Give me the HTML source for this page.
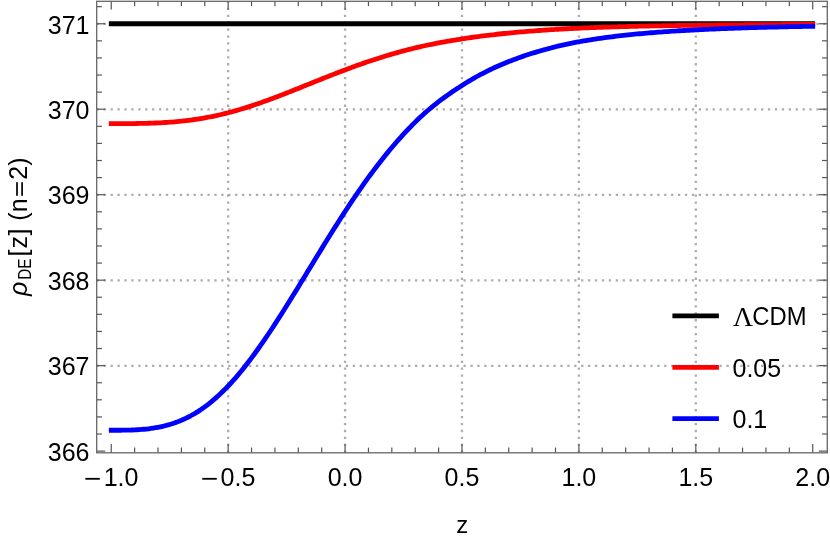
<!DOCTYPE html>
<html><head><meta charset="utf-8"><title>plot</title>
<style>html,body{margin:0;padding:0;background:#fff;overflow:hidden}svg{display:block;will-change:transform}</style>
</head><body>
<svg width="830" height="542" viewBox="0 0 830 542">
<g stroke="#adadad" stroke-width="2.3" stroke-dasharray="2.3 4.62" fill="none">
<line x1="96.70" y1="365.83" x2="827.30" y2="365.83"/>
<line x1="96.70" y1="280.36" x2="827.30" y2="280.36"/>
<line x1="96.70" y1="194.89" x2="827.30" y2="194.89"/>
<line x1="96.70" y1="109.42" x2="827.30" y2="109.42"/>
<line x1="96.70" y1="23.95" x2="827.30" y2="23.95"/>
<line x1="228.16" y1="452.90" x2="228.16" y2="1.30"/>
<line x1="345.07" y1="452.90" x2="345.07" y2="1.30"/>
<line x1="461.98" y1="452.90" x2="461.98" y2="1.30"/>
<line x1="578.89" y1="452.90" x2="578.89" y2="1.30"/>
<line x1="695.80" y1="452.90" x2="695.80" y2="1.30"/>
</g>
<g fill="none" stroke-width="4.8" stroke-linecap="square" stroke-linejoin="round">
<path d="M111.25,23.75 L812.71,23.75" stroke="#000"/>
<path d="M111.25,123.63 L113.59,123.63 L115.93,123.63 L118.26,123.63 L120.60,123.62 L122.94,123.62 L125.28,123.61 L127.62,123.60 L129.96,123.58 L132.29,123.56 L134.63,123.54 L136.97,123.51 L139.31,123.47 L141.65,123.43 L143.98,123.38 L146.32,123.33 L148.66,123.26 L151.00,123.19 L153.34,123.11 L155.68,123.01 L158.01,122.91 L160.35,122.79 L162.69,122.66 L165.03,122.52 L167.37,122.37 L169.70,122.21 L172.04,122.03 L174.38,121.84 L176.72,121.63 L179.06,121.41 L181.40,121.17 L183.73,120.92 L186.07,120.65 L188.41,120.37 L190.75,120.07 L193.09,119.75 L195.43,119.41 L197.76,119.05 L200.10,118.68 L202.44,118.29 L204.78,117.88 L207.12,117.45 L209.45,117.00 L211.79,116.53 L214.13,116.05 L216.47,115.54 L218.81,115.02 L221.15,114.48 L223.48,113.92 L225.82,113.35 L228.16,112.76 L230.50,112.15 L232.84,111.51 L235.17,110.87 L237.51,110.20 L239.85,109.51 L242.19,108.81 L244.53,108.10 L246.87,107.36 L249.20,106.61 L251.54,105.85 L253.88,105.07 L256.22,104.28 L258.56,103.48 L260.89,102.67 L263.23,101.84 L265.57,101.01 L267.91,100.16 L270.25,99.30 L272.59,98.43 L274.92,97.56 L277.26,96.67 L279.60,95.77 L281.94,94.87 L284.28,93.96 L286.62,93.05 L288.95,92.13 L291.29,91.20 L293.63,90.27 L295.97,89.34 L298.31,88.40 L300.64,87.47 L302.98,86.53 L305.32,85.59 L307.66,84.64 L310.00,83.70 L312.34,82.76 L314.67,81.82 L317.01,80.88 L319.35,79.94 L321.69,79.00 L324.03,78.07 L326.36,77.14 L328.70,76.22 L331.04,75.29 L333.38,74.38 L335.72,73.47 L338.06,72.56 L340.39,71.67 L342.73,70.77 L345.07,69.89 L347.41,69.01 L349.75,68.15 L352.08,67.28 L354.42,66.43 L356.76,65.59 L359.10,64.76 L361.44,63.93 L363.78,63.12 L366.11,62.31 L368.45,61.52 L370.79,60.73 L373.13,59.96 L375.47,59.19 L377.80,58.44 L380.14,57.70 L382.48,56.97 L384.82,56.25 L387.16,55.54 L389.50,54.84 L391.83,54.15 L394.17,53.48 L396.51,52.82 L398.85,52.16 L401.19,51.52 L403.52,50.89 L405.86,50.27 L408.20,49.67 L410.54,49.07 L412.88,48.49 L415.22,47.91 L417.55,47.35 L419.89,46.81 L422.23,46.28 L424.57,45.76 L426.91,45.25 L429.25,44.76 L431.58,44.28 L433.92,43.81 L436.26,43.36 L438.60,42.91 L440.94,42.47 L443.27,42.05 L445.61,41.63 L447.95,41.22 L450.29,40.82 L452.63,40.42 L454.97,40.03 L457.30,39.65 L459.64,39.28 L461.98,38.90 L464.32,38.54 L466.66,38.18 L468.99,37.84 L471.33,37.50 L473.67,37.16 L476.01,36.84 L478.35,36.52 L480.69,36.22 L483.02,35.91 L485.36,35.62 L487.70,35.33 L490.04,35.05 L492.38,34.78 L494.71,34.51 L497.05,34.25 L499.39,34.00 L501.73,33.75 L504.07,33.51 L506.41,33.27 L508.74,33.04 L511.08,32.81 L513.42,32.59 L515.76,32.38 L518.10,32.17 L520.43,31.97 L522.77,31.77 L525.11,31.58 L527.45,31.39 L529.79,31.20 L532.13,31.02 L534.46,30.84 L536.80,30.66 L539.14,30.49 L541.48,30.33 L543.82,30.16 L546.16,30.00 L548.49,29.85 L550.83,29.70 L553.17,29.55 L555.51,29.41 L557.85,29.27 L560.18,29.13 L562.52,29.00 L564.86,28.87 L567.20,28.74 L569.54,28.62 L571.88,28.51 L574.21,28.39 L576.55,28.28 L578.89,28.17 L581.23,28.07 L583.57,27.97 L585.90,27.87 L588.24,27.78 L590.58,27.69 L592.92,27.60 L595.26,27.51 L597.60,27.42 L599.93,27.34 L602.27,27.26 L604.61,27.18 L606.95,27.10 L609.29,27.03 L611.62,26.95 L613.96,26.88 L616.30,26.81 L618.64,26.74 L620.98,26.68 L623.32,26.61 L625.65,26.55 L627.99,26.49 L630.33,26.43 L632.67,26.37 L635.01,26.32 L637.35,26.26 L639.68,26.21 L642.02,26.16 L644.36,26.10 L646.70,26.05 L649.04,26.01 L651.37,25.96 L653.71,25.91 L656.05,25.87 L658.39,25.82 L660.73,25.78 L663.07,25.74 L665.40,25.70 L667.74,25.66 L670.08,25.62 L672.42,25.58 L674.76,25.55 L677.09,25.51 L679.43,25.48 L681.77,25.44 L684.11,25.41 L686.45,25.37 L688.79,25.34 L691.12,25.31 L693.46,25.28 L695.80,25.25 L698.14,25.22 L700.48,25.19 L702.81,25.17 L705.15,25.14 L707.49,25.11 L709.83,25.09 L712.17,25.06 L714.51,25.04 L716.84,25.01 L719.18,24.99 L721.52,24.97 L723.86,24.94 L726.20,24.92 L728.53,24.90 L730.87,24.88 L733.21,24.86 L735.55,24.84 L737.89,24.82 L740.23,24.80 L742.56,24.78 L744.90,24.76 L747.24,24.74 L749.58,24.73 L751.92,24.71 L754.25,24.69 L756.59,24.68 L758.93,24.66 L761.27,24.64 L763.61,24.63 L765.95,24.61 L768.28,24.60 L770.62,24.59 L772.96,24.57 L775.30,24.56 L777.64,24.54 L779.98,24.53 L782.31,24.52 L784.65,24.50 L786.99,24.49 L789.33,24.48 L791.67,24.47 L794.00,24.46 L796.34,24.44 L798.68,24.43 L801.02,24.42 L803.36,24.41 L805.70,24.40 L808.03,24.39 L810.37,24.38 L812.71,24.37" stroke="#ff0000"/>
<path d="M111.25,430.26 L113.59,430.26 L115.93,430.26 L118.26,430.25 L120.60,430.24 L122.94,430.22 L125.28,430.18 L127.62,430.13 L129.96,430.07 L132.29,429.98 L134.63,429.88 L136.97,429.77 L139.31,429.62 L141.65,429.46 L143.98,429.26 L146.32,429.03 L148.66,428.77 L151.00,428.47 L153.34,428.13 L155.68,427.74 L158.01,427.31 L160.35,426.84 L162.69,426.32 L165.03,425.75 L167.37,425.13 L169.70,424.46 L172.04,423.74 L174.38,422.96 L176.72,422.12 L179.06,421.22 L181.40,420.26 L183.73,419.23 L186.07,418.14 L188.41,416.98 L190.75,415.76 L193.09,414.46 L195.43,413.08 L197.76,411.64 L200.10,410.12 L202.44,408.52 L204.78,406.85 L207.12,405.10 L209.45,403.27 L211.79,401.37 L214.13,399.40 L216.47,397.35 L218.81,395.23 L221.15,393.03 L223.48,390.76 L225.82,388.42 L228.16,386.01 L230.50,383.52 L232.84,380.95 L235.17,378.31 L237.51,375.60 L239.85,372.81 L242.19,369.96 L244.53,367.04 L246.87,364.05 L249.20,361.01 L251.54,357.90 L253.88,354.74 L256.22,351.53 L258.56,348.26 L260.89,344.95 L263.23,341.59 L265.57,338.19 L267.91,334.74 L270.25,331.25 L272.59,327.71 L274.92,324.14 L277.26,320.53 L279.60,316.88 L281.94,313.21 L284.28,309.51 L286.62,305.78 L288.95,302.04 L291.29,298.27 L293.63,294.49 L295.97,290.69 L298.31,286.89 L300.64,283.07 L302.98,279.25 L305.32,275.42 L307.66,271.59 L310.00,267.75 L312.34,263.91 L314.67,260.08 L317.01,256.26 L319.35,252.44 L321.69,248.63 L324.03,244.83 L326.36,241.05 L328.70,237.28 L331.04,233.54 L333.38,229.81 L335.72,226.10 L338.06,222.42 L340.39,218.77 L342.73,215.14 L345.07,211.54 L347.41,207.97 L349.75,204.44 L352.08,200.94 L354.42,197.47 L356.76,194.04 L359.10,190.64 L361.44,187.29 L363.78,183.97 L366.11,180.69 L368.45,177.46 L370.79,174.26 L373.13,171.11 L375.47,168.00 L377.80,164.94 L380.14,161.92 L382.48,158.94 L384.82,156.01 L387.16,153.13 L389.50,150.29 L391.83,147.49 L394.17,144.75 L396.51,142.05 L398.85,139.39 L401.19,136.78 L403.52,134.22 L405.86,131.70 L408.20,129.23 L410.54,126.81 L412.88,124.43 L415.22,122.10 L417.55,119.81 L419.89,117.59 L422.23,115.43 L424.57,113.32 L426.91,111.27 L429.25,109.27 L431.58,107.31 L433.92,105.41 L436.26,103.55 L438.60,101.73 L440.94,99.95 L443.27,98.21 L445.61,96.51 L447.95,94.84 L450.29,93.21 L452.63,91.60 L454.97,90.02 L457.30,88.47 L459.64,86.94 L461.98,85.43 L464.32,83.95 L466.66,82.50 L468.99,81.08 L471.33,79.70 L473.67,78.35 L476.01,77.03 L478.35,75.74 L480.69,74.49 L483.02,73.26 L485.36,72.06 L487.70,70.89 L490.04,69.75 L492.38,68.63 L494.71,67.55 L497.05,66.48 L499.39,65.45 L501.73,64.44 L504.07,63.45 L506.41,62.49 L508.74,61.55 L511.08,60.64 L513.42,59.75 L515.76,58.88 L518.10,58.03 L520.43,57.20 L522.77,56.39 L525.11,55.60 L527.45,54.83 L529.79,54.07 L532.13,53.32 L534.46,52.60 L536.80,51.89 L539.14,51.19 L541.48,50.52 L543.82,49.85 L546.16,49.21 L548.49,48.57 L550.83,47.96 L553.17,47.36 L555.51,46.77 L557.85,46.20 L560.18,45.65 L562.52,45.11 L564.86,44.58 L567.20,44.08 L569.54,43.58 L571.88,43.10 L574.21,42.64 L576.55,42.19 L578.89,41.76 L581.23,41.34 L583.57,40.93 L585.90,40.53 L588.24,40.15 L590.58,39.77 L592.92,39.40 L595.26,39.04 L597.60,38.70 L599.93,38.36 L602.27,38.03 L604.61,37.70 L606.95,37.39 L609.29,37.08 L611.62,36.79 L613.96,36.50 L616.30,36.21 L618.64,35.94 L620.98,35.67 L623.32,35.41 L625.65,35.15 L627.99,34.91 L630.33,34.66 L632.67,34.43 L635.01,34.20 L637.35,33.97 L639.68,33.75 L642.02,33.54 L644.36,33.33 L646.70,33.13 L649.04,32.93 L651.37,32.74 L653.71,32.55 L656.05,32.37 L658.39,32.19 L660.73,32.02 L663.07,31.85 L665.40,31.68 L667.74,31.52 L670.08,31.36 L672.42,31.21 L674.76,31.06 L677.09,30.92 L679.43,30.77 L681.77,30.63 L684.11,30.50 L686.45,30.36 L688.79,30.23 L691.12,30.11 L693.46,29.98 L695.80,29.86 L698.14,29.74 L700.48,29.62 L702.81,29.51 L705.15,29.40 L707.49,29.29 L709.83,29.19 L712.17,29.08 L714.51,28.98 L716.84,28.89 L719.18,28.79 L721.52,28.70 L723.86,28.60 L726.20,28.51 L728.53,28.43 L730.87,28.34 L733.21,28.26 L735.55,28.18 L737.89,28.10 L740.23,28.02 L742.56,27.94 L744.90,27.87 L747.24,27.80 L749.58,27.72 L751.92,27.65 L754.25,27.59 L756.59,27.52 L758.93,27.45 L761.27,27.39 L763.61,27.33 L765.95,27.27 L768.28,27.21 L770.62,27.15 L772.96,27.09 L775.30,27.04 L777.64,26.98 L779.98,26.93 L782.31,26.87 L784.65,26.82 L786.99,26.77 L789.33,26.72 L791.67,26.67 L794.00,26.62 L796.34,26.58 L798.68,26.53 L801.02,26.49 L803.36,26.44 L805.70,26.40 L808.03,26.35 L810.37,26.31 L812.71,26.27" stroke="#0000ff"/>
</g>
<g stroke="#555" stroke-width="1.2" fill="none">
<line x1="111.25" y1="452.80" x2="111.25" y2="444.10"/>
<line x1="111.25" y1="1.30" x2="111.25" y2="9.60"/>
<line x1="134.63" y1="452.80" x2="134.63" y2="447.60"/>
<line x1="134.63" y1="1.30" x2="134.63" y2="6.15"/>
<line x1="158.01" y1="452.80" x2="158.01" y2="447.60"/>
<line x1="158.01" y1="1.30" x2="158.01" y2="6.15"/>
<line x1="181.40" y1="452.80" x2="181.40" y2="447.60"/>
<line x1="181.40" y1="1.30" x2="181.40" y2="6.15"/>
<line x1="204.78" y1="452.80" x2="204.78" y2="447.60"/>
<line x1="204.78" y1="1.30" x2="204.78" y2="6.15"/>
<line x1="228.16" y1="452.80" x2="228.16" y2="444.10"/>
<line x1="228.16" y1="1.30" x2="228.16" y2="9.60"/>
<line x1="251.54" y1="452.80" x2="251.54" y2="447.60"/>
<line x1="251.54" y1="1.30" x2="251.54" y2="6.15"/>
<line x1="274.92" y1="452.80" x2="274.92" y2="447.60"/>
<line x1="274.92" y1="1.30" x2="274.92" y2="6.15"/>
<line x1="298.31" y1="452.80" x2="298.31" y2="447.60"/>
<line x1="298.31" y1="1.30" x2="298.31" y2="6.15"/>
<line x1="321.69" y1="452.80" x2="321.69" y2="447.60"/>
<line x1="321.69" y1="1.30" x2="321.69" y2="6.15"/>
<line x1="345.07" y1="452.80" x2="345.07" y2="444.10"/>
<line x1="345.07" y1="1.30" x2="345.07" y2="9.60"/>
<line x1="368.45" y1="452.80" x2="368.45" y2="447.60"/>
<line x1="368.45" y1="1.30" x2="368.45" y2="6.15"/>
<line x1="391.83" y1="452.80" x2="391.83" y2="447.60"/>
<line x1="391.83" y1="1.30" x2="391.83" y2="6.15"/>
<line x1="415.22" y1="452.80" x2="415.22" y2="447.60"/>
<line x1="415.22" y1="1.30" x2="415.22" y2="6.15"/>
<line x1="438.60" y1="452.80" x2="438.60" y2="447.60"/>
<line x1="438.60" y1="1.30" x2="438.60" y2="6.15"/>
<line x1="461.98" y1="452.80" x2="461.98" y2="444.10"/>
<line x1="461.98" y1="1.30" x2="461.98" y2="9.60"/>
<line x1="485.36" y1="452.80" x2="485.36" y2="447.60"/>
<line x1="485.36" y1="1.30" x2="485.36" y2="6.15"/>
<line x1="508.74" y1="452.80" x2="508.74" y2="447.60"/>
<line x1="508.74" y1="1.30" x2="508.74" y2="6.15"/>
<line x1="532.13" y1="452.80" x2="532.13" y2="447.60"/>
<line x1="532.13" y1="1.30" x2="532.13" y2="6.15"/>
<line x1="555.51" y1="452.80" x2="555.51" y2="447.60"/>
<line x1="555.51" y1="1.30" x2="555.51" y2="6.15"/>
<line x1="578.89" y1="452.80" x2="578.89" y2="444.10"/>
<line x1="578.89" y1="1.30" x2="578.89" y2="9.60"/>
<line x1="602.27" y1="452.80" x2="602.27" y2="447.60"/>
<line x1="602.27" y1="1.30" x2="602.27" y2="6.15"/>
<line x1="625.65" y1="452.80" x2="625.65" y2="447.60"/>
<line x1="625.65" y1="1.30" x2="625.65" y2="6.15"/>
<line x1="649.04" y1="452.80" x2="649.04" y2="447.60"/>
<line x1="649.04" y1="1.30" x2="649.04" y2="6.15"/>
<line x1="672.42" y1="452.80" x2="672.42" y2="447.60"/>
<line x1="672.42" y1="1.30" x2="672.42" y2="6.15"/>
<line x1="695.80" y1="452.80" x2="695.80" y2="444.10"/>
<line x1="695.80" y1="1.30" x2="695.80" y2="9.60"/>
<line x1="719.18" y1="452.80" x2="719.18" y2="447.60"/>
<line x1="719.18" y1="1.30" x2="719.18" y2="6.15"/>
<line x1="742.56" y1="452.80" x2="742.56" y2="447.60"/>
<line x1="742.56" y1="1.30" x2="742.56" y2="6.15"/>
<line x1="765.95" y1="452.80" x2="765.95" y2="447.60"/>
<line x1="765.95" y1="1.30" x2="765.95" y2="6.15"/>
<line x1="789.33" y1="452.80" x2="789.33" y2="447.60"/>
<line x1="789.33" y1="1.30" x2="789.33" y2="6.15"/>
<line x1="812.71" y1="452.80" x2="812.71" y2="444.10"/>
<line x1="812.71" y1="1.30" x2="812.71" y2="9.60"/>
<line x1="96.70" y1="451.10" x2="105.20" y2="451.10"/>
<line x1="827.30" y1="451.10" x2="818.80" y2="451.10"/>
<line x1="96.70" y1="434.01" x2="101.90" y2="434.01"/>
<line x1="827.30" y1="434.01" x2="822.10" y2="434.01"/>
<line x1="96.70" y1="416.91" x2="101.90" y2="416.91"/>
<line x1="827.30" y1="416.91" x2="822.10" y2="416.91"/>
<line x1="96.70" y1="399.82" x2="101.90" y2="399.82"/>
<line x1="827.30" y1="399.82" x2="822.10" y2="399.82"/>
<line x1="96.70" y1="382.72" x2="101.90" y2="382.72"/>
<line x1="827.30" y1="382.72" x2="822.10" y2="382.72"/>
<line x1="96.70" y1="365.63" x2="105.20" y2="365.63"/>
<line x1="827.30" y1="365.63" x2="818.80" y2="365.63"/>
<line x1="96.70" y1="348.54" x2="101.90" y2="348.54"/>
<line x1="827.30" y1="348.54" x2="822.10" y2="348.54"/>
<line x1="96.70" y1="331.44" x2="101.90" y2="331.44"/>
<line x1="827.30" y1="331.44" x2="822.10" y2="331.44"/>
<line x1="96.70" y1="314.35" x2="101.90" y2="314.35"/>
<line x1="827.30" y1="314.35" x2="822.10" y2="314.35"/>
<line x1="96.70" y1="297.25" x2="101.90" y2="297.25"/>
<line x1="827.30" y1="297.25" x2="822.10" y2="297.25"/>
<line x1="96.70" y1="280.16" x2="105.20" y2="280.16"/>
<line x1="827.30" y1="280.16" x2="818.80" y2="280.16"/>
<line x1="96.70" y1="263.07" x2="101.90" y2="263.07"/>
<line x1="827.30" y1="263.07" x2="822.10" y2="263.07"/>
<line x1="96.70" y1="245.97" x2="101.90" y2="245.97"/>
<line x1="827.30" y1="245.97" x2="822.10" y2="245.97"/>
<line x1="96.70" y1="228.88" x2="101.90" y2="228.88"/>
<line x1="827.30" y1="228.88" x2="822.10" y2="228.88"/>
<line x1="96.70" y1="211.78" x2="101.90" y2="211.78"/>
<line x1="827.30" y1="211.78" x2="822.10" y2="211.78"/>
<line x1="96.70" y1="194.69" x2="105.20" y2="194.69"/>
<line x1="827.30" y1="194.69" x2="818.80" y2="194.69"/>
<line x1="96.70" y1="177.60" x2="101.90" y2="177.60"/>
<line x1="827.30" y1="177.60" x2="822.10" y2="177.60"/>
<line x1="96.70" y1="160.50" x2="101.90" y2="160.50"/>
<line x1="827.30" y1="160.50" x2="822.10" y2="160.50"/>
<line x1="96.70" y1="143.41" x2="101.90" y2="143.41"/>
<line x1="827.30" y1="143.41" x2="822.10" y2="143.41"/>
<line x1="96.70" y1="126.31" x2="101.90" y2="126.31"/>
<line x1="827.30" y1="126.31" x2="822.10" y2="126.31"/>
<line x1="96.70" y1="109.22" x2="105.20" y2="109.22"/>
<line x1="827.30" y1="109.22" x2="818.80" y2="109.22"/>
<line x1="96.70" y1="92.13" x2="101.90" y2="92.13"/>
<line x1="827.30" y1="92.13" x2="822.10" y2="92.13"/>
<line x1="96.70" y1="75.03" x2="101.90" y2="75.03"/>
<line x1="827.30" y1="75.03" x2="822.10" y2="75.03"/>
<line x1="96.70" y1="57.94" x2="101.90" y2="57.94"/>
<line x1="827.30" y1="57.94" x2="822.10" y2="57.94"/>
<line x1="96.70" y1="40.84" x2="101.90" y2="40.84"/>
<line x1="827.30" y1="40.84" x2="822.10" y2="40.84"/>
<line x1="96.70" y1="23.75" x2="105.20" y2="23.75"/>
<line x1="827.30" y1="23.75" x2="818.80" y2="23.75"/>
<line x1="96.70" y1="6.66" x2="101.90" y2="6.66"/>
<line x1="827.30" y1="6.66" x2="822.10" y2="6.66"/>
</g>
<rect x="96.70" y="1.30" width="730.60" height="451.50" fill="none" stroke="#666" stroke-width="1.3"/>
<g font-family="'Liberation Sans', sans-serif" font-size="25px" fill="#000">
<text x="89.5" y="460.90" text-anchor="end">366</text>
<text x="89.5" y="375.43" text-anchor="end">367</text>
<text x="89.5" y="289.96" text-anchor="end">368</text>
<text x="89.5" y="204.49" text-anchor="end">369</text>
<text x="89.5" y="119.02" text-anchor="end">370</text>
<text x="89.5" y="33.55" text-anchor="end">371</text>
<rect x="85.35" y="477.9" width="14.5" height="1.8"/>
<text x="138.45" y="485.6" text-anchor="end">1.0</text>
<rect x="202.26" y="477.9" width="14.5" height="1.8"/>
<text x="255.36" y="485.6" text-anchor="end">0.5</text>
<text x="345.07" y="485.6" text-anchor="middle">0.0</text>
<text x="461.98" y="485.6" text-anchor="middle">0.5</text>
<text x="578.89" y="485.6" text-anchor="middle">1.0</text>
<text x="695.80" y="485.6" text-anchor="middle">1.5</text>
<text x="812.71" y="485.6" text-anchor="middle">2.0</text>
<text x="462.3" y="533.3" text-anchor="middle" font-size="24px">z</text>
<text x="752.3" y="325.4" textLength="54.2" lengthAdjust="spacingAndGlyphs">CDM</text>
<text x="732.5" y="377.2">0.05</text>
<text x="732.5" y="428.4">0.1</text>
<text x="733" y="325.6" font-family="'Liberation Serif', serif" font-size="27.6px">Λ</text>
<g transform="translate(26.6 295.6) rotate(-90)">
<text x="-0.5" y="0" font-style="italic" font-size="25px">ρ</text>
<text x="15.9" y="4.5" font-size="18px" textLength="21.2" lengthAdjust="spacingAndGlyphs">DE</text>
<text x="42.6" y="0" text-anchor="middle">[</text>
<text x="53.3" y="0" text-anchor="middle">z</text>
<text x="63.5" y="0" text-anchor="middle">]</text>
<text x="79.0" y="0" text-anchor="middle">(</text>
<text x="90.4" y="0" text-anchor="middle">n</text>
<text x="122.8" y="0" text-anchor="middle">2</text>
<text x="134.1" y="0" text-anchor="middle">)</text>
<rect x="99.8" y="-10.45" width="13.6" height="1.7"/>
<rect x="99.8" y="-5.35" width="13.6" height="1.7"/>
</g>
</g>
<g stroke-width="4.8" fill="none">
<line x1="672.4" y1="315.8" x2="718.9" y2="315.8" stroke="#000"/>
<line x1="672.4" y1="367.3" x2="718.9" y2="367.3" stroke="#ff0000"/>
<line x1="672.4" y1="418.6" x2="718.9" y2="418.6" stroke="#0000ff"/>
</g>
</svg>
</body></html>
